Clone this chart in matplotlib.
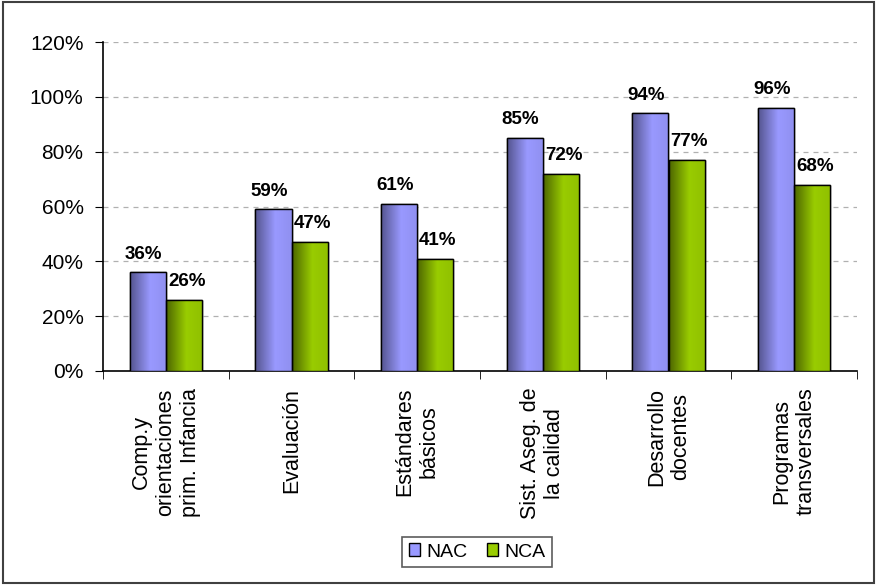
import numpy as np
import matplotlib
matplotlib.use("Agg")
import matplotlib.pyplot as plt
import matplotlib.ticker as ticker
from matplotlib.patches import Rectangle
from matplotlib.colors import LinearSegmentedColormap

plt.rcParams['font.family'] = ['Liberation Sans', 'DejaVu Sans']

# data
categories = ["Comp.y\norientaciones\nprim. Infancia", "Evaluación", "Estándares\nbásicos",
              "Sist. Aseg. de\nla calidad", "Desarrollo\ndocentes", "Programas\ntransversales"]
nac = [36, 59, 61, 85, 94, 96]
nca = [26, 47, 41, 72, 77, 68]
series_names = ["NAC", "NCA"]

fig = plt.figure(figsize=(8.77, 5.85), dpi=100)
ax = fig.add_axes([103 / 877, 1 - 371 / 585, 754 / 877, 329 / 585])

x = np.arange(len(categories))
w = 0.287
b1 = ax.bar(x - w / 2, nac, w, color="#9999FF", edgecolor="black", linewidth=1.0, label=series_names[0], zorder=3)
b2 = ax.bar(x + w / 2, nca, w, color="#99CC00", edgecolor="black", linewidth=1.0, label=series_names[1], zorder=3)

# gradient shading like the original (dark left edge -> light)
cm1 = LinearSegmentedColormap.from_list("g1", [(0, "#55558f"), (0.55, "#9999FF"), (1, "#9090f0")])
cm2 = LinearSegmentedColormap.from_list("g2", [(0, "#4d6600"), (0.55, "#99CC00"), (1, "#90c000")])
grad = np.linspace(0, 1, 64).reshape(1, -1)
for bars, cm in ((b1, cm1), (b2, cm2)):
    for r in bars:
        x0, y0 = r.get_x(), r.get_y()
        im = ax.imshow(grad, cmap=cm, aspect="auto", extent=(x0, x0 + r.get_width(), y0, y0 + r.get_height()),
                       zorder=3.5, interpolation="bilinear")
        im.set_clip_path(r)
        r2 = Rectangle((x0, y0), r.get_width(), r.get_height(), fill=False, edgecolor="black", linewidth=1.0, zorder=4)
        ax.add_patch(r2)

for xi, v in zip(x, nac):
    ax.annotate(f"{v}%", (xi - w / 2, v), xytext=(-3, 7), textcoords="offset points",
                ha="center", va="bottom", fontsize=13.5, fontweight="bold")
for xi, v in zip(x, nca):
    ax.annotate(f"{v}%", (xi + w / 2, v), xytext=(2, 7), textcoords="offset points",
                ha="center", va="bottom", fontsize=13.5, fontweight="bold")

ax.set_xlim(-0.5, len(categories) - 0.5)
ax.set_ylim(0, 120)
ax.yaxis.set_major_locator(ticker.MultipleLocator(20))
ax.yaxis.set_major_formatter(ticker.FuncFormatter(lambda v, p: f"{int(v)}%"))
ax.tick_params(axis="y", labelsize=15, length=6, direction="out", colors="black", pad=8)

ax.set_xticks(x)
ax.set_xticklabels(categories, rotation=90, ha="center", va="top", multialignment="center", fontsize=15.5)
ax.tick_params(axis="x", which="major", length=0, pad=12)
ax.set_xticks(np.arange(-0.5, len(categories)), minor=True)
ax.tick_params(axis="x", which="minor", length=5.5, direction="out")

for y in range(20, 121, 20):
    ax.axhline(y, color="#b0b0b0", linestyle=(0, (4, 4)), linewidth=0.9, zorder=1)

ax.spines["top"].set_visible(False)
ax.spines["right"].set_visible(False)
ax.spines["left"].set_linewidth(1.2)
ax.spines["bottom"].set_linewidth(1.2)

leg = fig.legend(handles=[b1, b2], loc="center", bbox_to_anchor=(477 / 877, 1 - 552 / 585), ncol=2,
                 fontsize=14, frameon=True, fancybox=False, edgecolor="#333333",
                 handlelength=0.6, handleheight=0.6, handletextpad=0.3, columnspacing=1.0, borderpad=0.35)
leg.get_frame().set_linewidth(1.2)

fig.patches.append(Rectangle((0.003, 0.003), 0.994, 0.994, transform=fig.transFigure,
                             fill=False, edgecolor="#404040", linewidth=1.5))

fig.savefig("out.png", dpi=100)
